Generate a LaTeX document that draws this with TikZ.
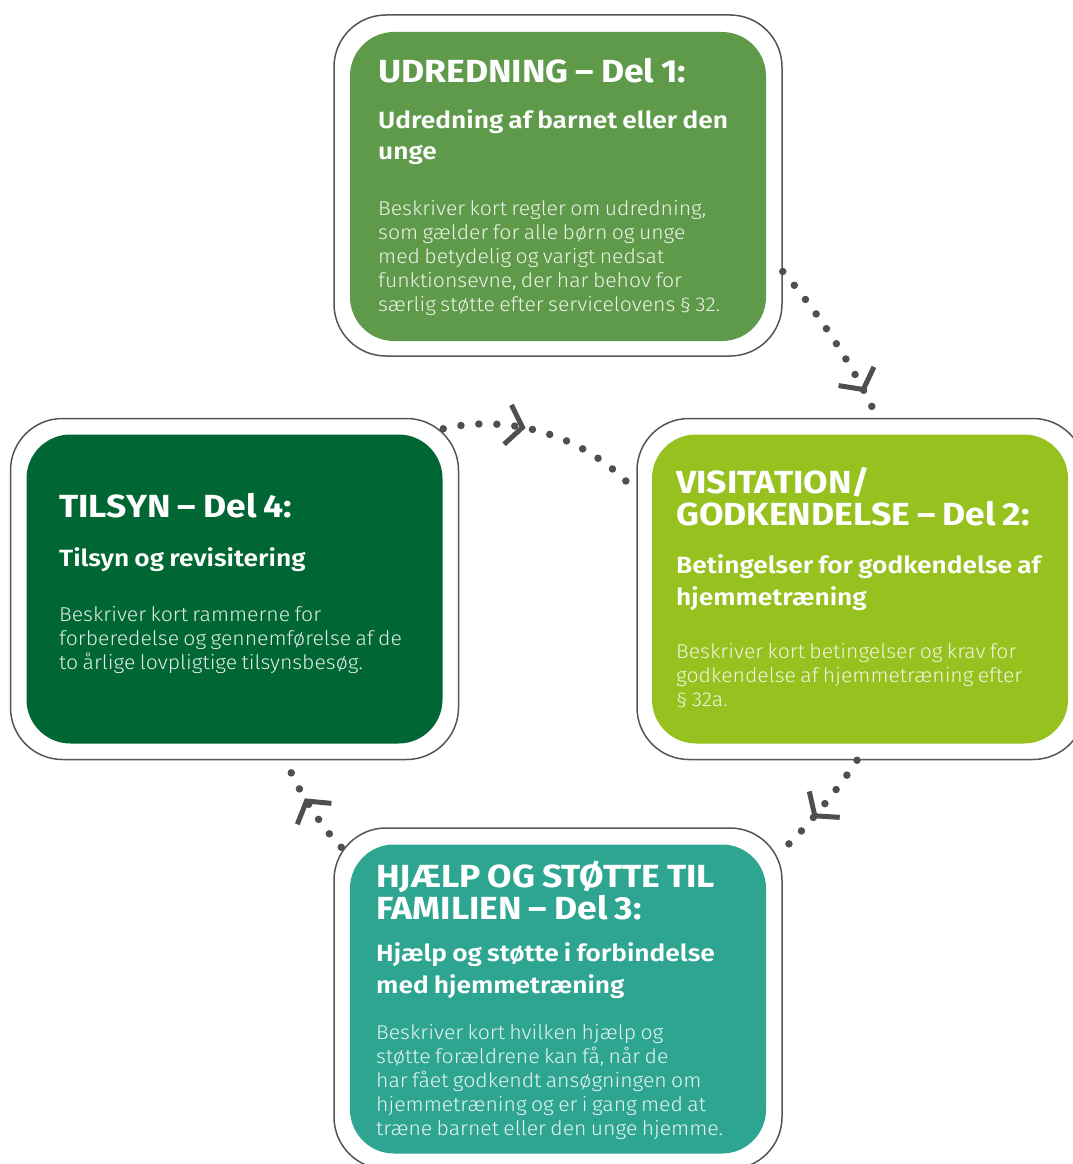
\documentclass[tikz,border=0pt]{standalone}
\usepackage{fontspec}
\setmainfont{Fira Sans}
\newfontfamily\headfont{Fira Sans Bold}[FakeStretch=1.11]
\newfontfamily\subfont{Fira Sans SemiBold}[FakeStretch=1.12]
\newfontfamily\bodyfont{Fira Sans Light}[FakeStretch=1.06]
\usetikzlibrary{decorations.markings}

\definecolor{udrgreen}{HTML}{5F994A}
\definecolor{visgreen}{HTML}{97C11F}
\definecolor{hjpteal}{HTML}{2EA591}
\definecolor{tilsgreen}{HTML}{006633}
\definecolor{framegray}{HTML}{555555}
\definecolor{dotgray}{HTML}{4F4F4F}

\newcommand{\ttlhd}{\headfont\fontsize{32}{32}\selectfont\spaceskip=0.22em\relax}
\newcommand{\subhd}{\subfont\fontsize{23.5}{32}\selectfont\spaceskip=0.22em\relax}
\newcommand{\bodytx}{\bodyfont\fontsize{20}{24}\selectfont\spaceskip=0.22em\relax}
\setlength{\parindent}{0pt}

\tikzset{
  frame/.style={draw=framegray, line width=1.5pt, fill=white, rounded corners=52pt,
    minimum width=448pt, minimum height=341pt, inner sep=0pt},
  panel/.style={rounded corners=44pt, minimum width=416pt, minimum height=309pt, inner sep=0pt},
  txt/.style={anchor=base west, text width=420pt, align=left, inner sep=0pt, text=white},
  flow/.style={draw=dotgray, line width=7.5pt, line cap=round, dash pattern=on 0pt off 18pt},
  chevron/.style={postaction={decorate, decoration={markings, mark=at position #1 with
    {\draw[dotgray, line width=5pt, solid, line cap=butt, line join=miter]
      (-15pt,20pt) -- (0pt,0pt) -- (-15pt,-20pt);}}}}
}

\begin{document}
\begin{tikzpicture}[x=1pt, y=-1pt]
    \useasboundingbox (0,0) rectangle (1073,1164);
    \clip (0,0) rectangle (1073,1164);

    % boxes
    \node[frame] (udr) at (558,185.5) {};
    \node[panel, fill=udrgreen] (udrpanel) at (558,186.5) {};
    \node[frame] (vis) at (861,589) {};
    \node[panel, fill=visgreen] (vispanel) at (860,589) {};
    \node[frame] (tils) at (234.5,589) {};
    \node[panel, fill=tilsgreen] (tilspanel) at (234.5,589) {};
    \node[frame] (hjp) at (558,998.5) {};
    \node[panel, fill=hjpteal] (hjppanel) at (558,999) {};

    % texts
    \node[txt] (udrtxt) at (378,82) {%
      {\ttlhd UDREDNING – Del 1:\par}\vspace{14pt}
      {\subhd Udredning af barnet eller den\\unge\par}\vspace{31pt}
      {\bodytx\color{white!88!udrgreen} Beskriver kort regler om udredning,\\som gælder for alle børn og unge\\med betydelig og varigt nedsat\\funktionsevne, der har behov for\\særlig støtte efter servicelovens § 32.\par}};
    \node[txt] (vistxt) at (676,493) {%
      {\ttlhd VISITATION/\\GODKENDELSE – Del 2:\par}\vspace{16pt}
      {\subhd Betingelser for godkendelse af\\hjemmetræning\par}\vspace{29pt}
      {\bodytx\color{white!85!visgreen} Beskriver kort betingelser og krav for\\godkendelse af hjemmetræning efter\\§ 32a.\par}};
    \node[txt] (tilstxt) at (59,517) {%
      {\ttlhd TILSYN – Del 4:\par}\vspace{17pt}
      {\subhd Tilsyn og revisitering\par}\vspace{31pt}
      {\bodytx\color{white!88!tilsgreen} Beskriver kort rammerne for\\forberedelse og gennemførelse af de\\to årlige lovpligtige tilsynsbesøg.\par}};
    \node[txt] (hjptxt) at (376,887) {%
      {\ttlhd HJÆLP OG STØTTE TIL\\FAMILIEN – Del 3:\par}\vspace{10pt}
      {\subhd Hjælp og støtte i forbindelse\\med hjemmetræning\par}\vspace{22pt}
      {\bodytx\color{white!88!hjpteal} Beskriver kort hvilken hjælp og\\støtte forældrene kan få, når de\\har fået godkendt ansøgningen om\\hjemmetræning og er i gang med at\\træne barnet eller den unge hjemme.\par}};

    % dotted arrows
    \draw[flow, chevron=0.82] ([yshift=-86pt]udr.east) .. controls +(35,40) and +(-20,-46) .. ([xshift=16pt]vis.north);
    \draw[flow, chevron=0.6] ([xshift=-4pt]vis.south) .. controls +(-15,24) and +(20,-17) .. ([yshift=149pt]hjp.east);
    \draw[flow, chevron=0.56] ([shift={(8,20)}]hjp.north west) .. controls +(-22,-22) and +(5,19) .. ([xshift=52pt]tils.south);
    \draw[flow, chevron=0.38] ([shift={(-16,11)}]tils.north east) .. controls +(58,-14) and +(-54,-60) .. ([shift={(-2,72)}]vis.north west);
\end{tikzpicture}
\end{document}
